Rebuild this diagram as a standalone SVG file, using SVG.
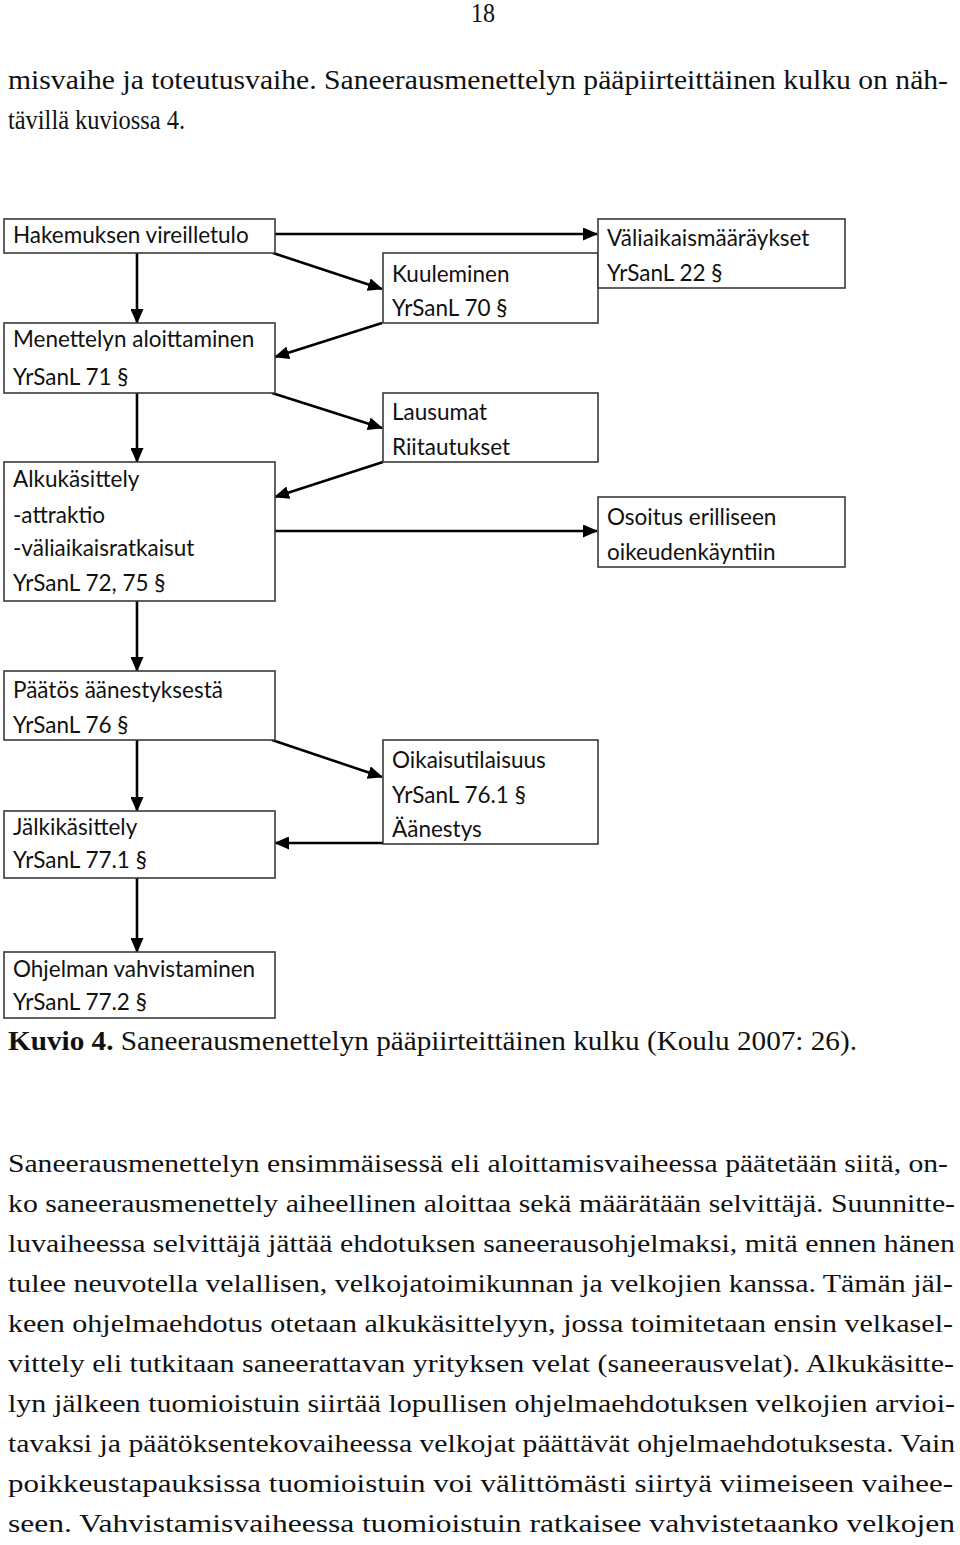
<svg xmlns="http://www.w3.org/2000/svg" width="960" height="1545" viewBox="0 0 960 1545">
<style>
.bg{fill:#ffffff}
.box{fill:#ffffff;stroke:#3a3a3a;stroke-width:1.6}
.lbl{font-family:Lato,"Open Sans","Liberation Sans",sans-serif;font-size:22.5px;fill:#111}
.body{font-family:"Liberation Serif","DejaVu Serif",serif;font-size:26px;fill:#111}
.cond{font-family:"Liberation Serif",serif;font-size:28px;fill:#111}
.conn{stroke:#000;stroke-width:2.6;fill:none;marker-end:url(#ah)}
</style>
<defs>
<marker id="ah" markerUnits="userSpaceOnUse" markerWidth="15" markerHeight="13" refX="14" refY="6.5" orient="auto">
<path d="M0,0 L15,6.5 L0,13 z" fill="#000"/>
</marker>
</defs>
<rect class="bg" x="0" y="0" width="960" height="1545"/>

<text class="cond" x="471" y="22" font-size="22" textLength="24" lengthAdjust="spacingAndGlyphs">18</text>
<text class="cond" x="8" y="89" textLength="940" lengthAdjust="spacingAndGlyphs">misvaihe ja toteutusvaihe. Saneerausmenettelyn pääpiirteittäinen kulku on näh-</text>
<text class="cond" x="8" y="129" textLength="177" lengthAdjust="spacingAndGlyphs">tävillä kuviossa 4.</text>

<g id="connectors">
<line class="conn" x1="137" y1="253" x2="137" y2="323"/>
<line class="conn" x1="272" y1="234" x2="597" y2="234"/>
<line class="conn" x1="273" y1="253" x2="382" y2="289"/>
<line class="conn" x1="382" y1="323" x2="275" y2="357"/>
<line class="conn" x1="272" y1="393" x2="382" y2="428"/>
<line class="conn" x1="383" y1="462" x2="275" y2="497"/>
<line class="conn" x1="137" y1="393" x2="137" y2="462"/>
<line class="conn" x1="272" y1="531" x2="597" y2="531"/>
<line class="conn" x1="137" y1="588" x2="137" y2="671"/>
<line class="conn" x1="137" y1="740" x2="137" y2="811"/>
<line class="conn" x1="272" y1="740" x2="382" y2="777"/>
<line class="conn" x1="383" y1="843" x2="275" y2="843"/>
<line class="conn" x1="137" y1="873" x2="137" y2="952"/>
</g>

<g id="n-hakemus">
<rect class="box" x="4" y="219" width="271" height="34"/>
<text class="lbl" x="13" y="243">Hakemuksen vireilletulo</text>
</g>
<g id="n-menettely">
<rect class="box" x="4" y="323" width="271" height="70"/>
<text class="lbl" x="13" y="347">Menettelyn aloittaminen</text>
<text class="lbl" x="13" y="385">YrSanL 71 §</text>
</g>
<g id="n-alku">
<rect class="box" x="4" y="462" width="271" height="139"/>
<text class="lbl" x="13" y="487">Alkukäsittely</text>
<text class="lbl" x="13" y="523">-attraktio</text>
<text class="lbl" x="13" y="556">-väliaikaisratkaisut</text>
<text class="lbl" x="13" y="591">YrSanL 72, 75 §</text>
</g>
<g id="n-kuuleminen">
<rect class="box" x="383" y="253" width="215" height="70"/>
<text class="lbl" x="392" y="282">Kuuleminen</text>
<text class="lbl" x="392" y="316">YrSanL 70 §</text>
</g>
<g id="n-lausumat">
<rect class="box" x="383" y="393" width="215" height="69"/>
<text class="lbl" x="392" y="420">Lausumat</text>
<text class="lbl" x="392" y="455">Riitautukset</text>
</g>
<g id="n-valiaikais">
<rect class="box" x="598" y="219" width="247" height="69"/>
<text class="lbl" x="607" y="246">Väliaikaismääräykset</text>
<text class="lbl" x="607" y="281">YrSanL 22 §</text>
</g>
<g id="n-osoitus">
<rect class="box" x="598" y="497" width="247" height="70"/>
<text class="lbl" x="607" y="525">Osoitus erilliseen</text>
<text class="lbl" x="607" y="560">oikeudenkäyntiin</text>
</g>
<g id="n-paatos">
<rect class="box" x="4" y="671" width="271" height="69"/>
<text class="lbl" x="13" y="698">Päätös äänestyksestä</text>
<text class="lbl" x="13" y="733">YrSanL 76 §</text>
</g>
<g id="n-jalki">
<rect class="box" x="4" y="811" width="271" height="67"/>
<text class="lbl" x="13" y="835">Jälkikäsittely</text>
<text class="lbl" x="13" y="868">YrSanL 77.1 §</text>
</g>
<g id="n-oikaisu">
<rect class="box" x="383" y="740" width="215" height="104"/>
<text class="lbl" x="392" y="768">Oikaisutilaisuus</text>
<text class="lbl" x="392" y="803">YrSanL 76.1 §</text>
<text class="lbl" x="392" y="837">Äänestys</text>
</g>
<g id="n-ohjelma">
<rect class="box" x="4" y="952" width="271" height="66"/>
<text class="lbl" x="13" y="977">Ohjelman vahvistaminen</text>
<text class="lbl" x="13" y="1010">YrSanL 77.2 §</text>
</g>

<text class="cond" x="8" y="1050" textLength="849" lengthAdjust="spacingAndGlyphs"><tspan font-weight="bold">Kuvio 4.</tspan> Saneerausmenettelyn pääpiirteittäinen kulku (Koulu 2007: 26).</text>

<g id="paragraph">
<text class="body" x="8" y="1172" textLength="940" lengthAdjust="spacingAndGlyphs">Saneerausmenettelyn ensimmäisessä eli aloittamisvaiheessa päätetään siitä, on-</text>
<text class="body" x="8" y="1212" textLength="947" lengthAdjust="spacingAndGlyphs">ko saneerausmenettely aiheellinen aloittaa sekä määrätään selvittäjä. Suunnitte-</text>
<text class="body" x="8" y="1252" textLength="947" lengthAdjust="spacingAndGlyphs">luvaiheessa selvittäjä jättää ehdotuksen saneerausohjelmaksi, mitä ennen hänen</text>
<text class="body" x="8" y="1292" textLength="945" lengthAdjust="spacingAndGlyphs">tulee neuvotella velallisen, velkojatoimikunnan ja velkojien kanssa. Tämän jäl-</text>
<text class="body" x="8" y="1332" textLength="945" lengthAdjust="spacingAndGlyphs">keen ohjelmaehdotus otetaan alkukäsittelyyn, jossa toimitetaan ensin velkasel-</text>
<text class="body" x="8" y="1372" textLength="946" lengthAdjust="spacingAndGlyphs">vittely eli tutkitaan saneerattavan yrityksen velat (saneerausvelat). Alkukäsitte-</text>
<text class="body" x="8" y="1412" textLength="947" lengthAdjust="spacingAndGlyphs">lyn jälkeen tuomioistuin siirtää lopullisen ohjelmaehdotuksen velkojien arvioi-</text>
<text class="body" x="8" y="1452" textLength="947" lengthAdjust="spacingAndGlyphs">tavaksi ja päätöksentekovaiheessa velkojat päättävät ohjelmaehdotuksesta. Vain</text>
<text class="body" x="8" y="1492" textLength="945" lengthAdjust="spacingAndGlyphs">poikkeustapauksissa tuomioistuin voi välittömästi siirtyä viimeiseen vaihee-</text>
<text class="body" x="8" y="1532" textLength="947" lengthAdjust="spacingAndGlyphs">seen. Vahvistamisvaiheessa tuomioistuin ratkaisee vahvistetaanko velkojen</text>
</g>
</svg>
